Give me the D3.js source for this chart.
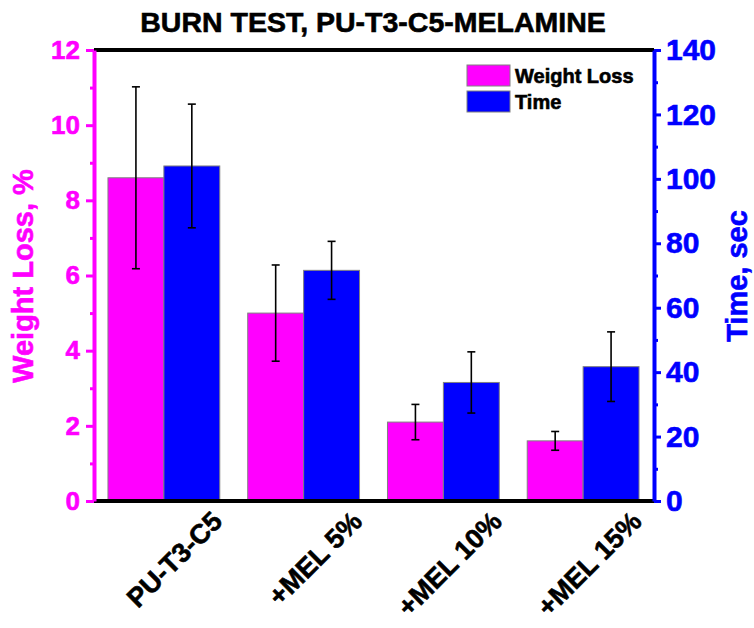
<!DOCTYPE html>
<html>
<head>
<meta charset="utf-8">
<script src="https://cdn.jsdelivr.net/npm/d3@7"></script>
<style>
  body { margin: 0; background: #fff; }
  svg { display: block; font-family: "Liberation Sans", Arial, sans-serif; font-weight: bold; }
  svg text { font-weight: bold; stroke-width: 0.6px; }
</style>
</head>
<body>
<div id="chart"></div>
<script>
const categories = ['PU-T3-C5', '+MEL 5%', '+MEL 10%', '+MEL 15%'];
const weightLoss = [8.6, 5.0, 2.1, 1.6];
const weightLossErr = [2.42, 1.28, 0.47, 0.25];
const timeSec = [104.0, 71.6, 36.8, 41.7];
const timeErr = [19.2, 9.0, 9.5, 10.8];
const leftTicks = [0, 2, 4, 6, 8, 10, 12];
const rightTicks = [0, 20, 40, 60, 80, 100, 120, 140];

const W = 754, H = 628;
const plot = { left: 94, right: 654, top: 50, bottom: 501 };
const magenta = '#ff00ff', blue = '#0000ff';

const svg = d3.select('#chart').append('svg')
    .attr('width', W)
    .attr('height', H);

const x = d3.scaleBand()
    .domain(categories)
    .range([plot.left, plot.right - 1])
    .paddingInner(0.2)
    .paddingOuter(0.1);

const yL = d3.scaleLinear().domain([0, 12]).range([plot.bottom, plot.top]);
const yR = d3.scaleLinear().domain([0, 140]).range([plot.bottom, plot.top]);

const half = x.bandwidth() / 2;

// bars
const series = [
    { vals: weightLoss, errs: weightLossErr, y: yL, color: magenta, off: 0 },
    { vals: timeSec, errs: timeErr, y: yR, color: blue, off: half }
];

series.forEach(s => {
    svg.append('g').selectAll('rect')
        .data(categories)
        .enter().append('rect')
        .attr('x', d => x(d) + s.off)
        .attr('y', (d, i) => s.y(s.vals[i]))
        .attr('width', half)
        .attr('height', (d, i) => plot.bottom - s.y(s.vals[i]))
        .attr('fill', s.color)
        .attr('stroke', '#808080')
        .attr('stroke-width', 1);
});

// error bars
series.forEach(s => {
    const g = svg.append('g').attr('stroke', '#000').attr('stroke-width', 1.6);
    categories.forEach((d, i) => {
        const cx = x(d) + s.off + half / 2;
        const hi = s.y(s.vals[i] + s.errs[i]);
        const lo = s.y(s.vals[i] - s.errs[i]);
        g.append('line').attr('x1', cx).attr('x2', cx).attr('y1', hi).attr('y2', lo);
        g.append('line').attr('x1', cx - 4).attr('x2', cx + 4).attr('y1', hi).attr('y2', hi);
        g.append('line').attr('x1', cx - 4).attr('x2', cx + 4).attr('y1', lo).attr('y2', lo);
    });
});

// frame top and bottom
svg.append('line')
    .attr('x1', plot.left).attr('x2', plot.right)
    .attr('y1', plot.top).attr('y2', plot.top)
    .attr('stroke', '#000').attr('stroke-width', 4);
svg.append('line')
    .attr('x1', plot.left).attr('x2', plot.right)
    .attr('y1', plot.bottom).attr('y2', plot.bottom)
    .attr('stroke', '#000').attr('stroke-width', 4);

// left axis
const minorL = d3.range(1, 12, 2);
svg.append('g')
    .attr('transform', `translate(${plot.left},0)`)
    .call(d3.axisLeft(yL).tickValues(minorL).tickSize(4).tickSizeOuter(0).tickFormat(''))
    .call(g => g.select('.domain').remove())
    .call(g => g.selectAll('line').attr('stroke', magenta).attr('stroke-width', 3));

const axL = svg.append('g')
    .attr('transform', `translate(${plot.left},0)`)
    .call(d3.axisLeft(yL).tickValues(leftTicks).tickSize(8).tickSizeOuter(0).tickPadding(6));
axL.select('.domain').attr('stroke', magenta).attr('stroke-width', 4);
axL.selectAll('line').attr('stroke', magenta).attr('stroke-width', 3);
axL.selectAll('text')
    .attr('fill', magenta)
    .attr('stroke', magenta)
    .style('font-size', '26px')
    .style('font-family', '"Liberation Sans", Arial, sans-serif');

// right axis
const minorR = d3.range(10, 140, 20);
svg.append('g')
    .attr('transform', `translate(${plot.right},0)`)
    .call(d3.axisRight(yR).tickValues(minorR).tickSize(4).tickSizeOuter(0).tickFormat(''))
    .call(g => g.select('.domain').remove())
    .call(g => g.selectAll('line').attr('stroke', blue).attr('stroke-width', 3));

const axR = svg.append('g')
    .attr('transform', `translate(${plot.right},0)`)
    .call(d3.axisRight(yR).tickValues(rightTicks).tickSize(7).tickSizeOuter(0).tickPadding(5));
axR.select('.domain').attr('stroke', blue).attr('stroke-width', 4);
axR.selectAll('line').attr('stroke', blue).attr('stroke-width', 3);
axR.selectAll('text')
    .attr('fill', blue)
    .attr('stroke', blue)
    .style('font-size', '30px')
    .style('font-family', '"Liberation Sans", Arial, sans-serif');

// category labels
svg.append('g').selectAll('text')
    .data(categories)
    .enter().append('text')
    .attr('text-anchor', 'end')
    .attr('transform', d => `translate(${x(d) + half + 60},523) rotate(-45)`)
    .style('font-size', '27px')
    .attr('fill', '#000')
    .attr('stroke', '#000')
    .text(d => d);

// titles
svg.append('text')
    .attr('x', 373).attr('y', 32)
    .attr('text-anchor', 'middle')
    .style('font-size', '28.5px')
    .attr('stroke', '#000')
    .text('BURN TEST, PU-T3-C5-MELAMINE');

svg.append('text')
    .attr('transform', `translate(33,276) rotate(-90)`)
    .attr('text-anchor', 'middle')
    .attr('fill', magenta)
    .attr('stroke', magenta)
    .style('font-size', '29px')
    .text('Weight Loss, %');

svg.append('text')
    .attr('transform', `translate(747,276) rotate(-90)`)
    .attr('text-anchor', 'middle')
    .attr('fill', blue)
    .attr('stroke', blue)
    .style('font-size', '29px')
    .text('Time, sec');

// legend
const legend = [{ name: 'Weight Loss', color: magenta }, { name: 'Time', color: blue }];
const lg = svg.append('g').attr('transform', 'translate(467,65)');
legend.forEach((l, i) => {
    lg.append('rect')
        .attr('x', 0).attr('y', i * 26)
        .attr('width', 43).attr('height', 21)
        .attr('fill', l.color)
        .attr('stroke', '#808080').attr('stroke-width', 1);
    lg.append('text')
        .attr('x', 48).attr('y', i * 26 + 18)
        .style('font-size', '20px')
        .attr('fill', '#000')
        .attr('stroke', '#000')
        .attr('stroke-width', 0.4)
        .text(l.name);
});
</script>
</body>
</html>
